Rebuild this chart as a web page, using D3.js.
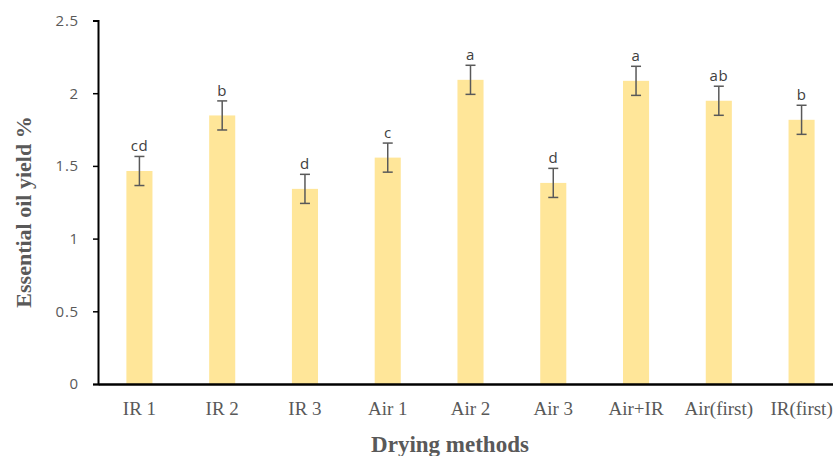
<!DOCTYPE html>
<html><head><meta charset="utf-8">
<script src="https://cdn.jsdelivr.net/npm/d3@7"></script>
<style>body{margin:0;background:#fff}svg{display:block}</style>
</head><body>
<script>
const categories = ["IR 1","IR 2","IR 3","Air 1","Air 2","Air 3","Air+IR","Air(first)","IR(first)"];
const values = [1.465,1.847,1.342,1.557,2.092,1.383,2.085,1.948,1.817];
const errors = [0.1,0.1,0.1,0.1,0.1,0.1,0.1,0.1,0.1];
const letters = ["cd","b","d","c","a","d","a","ab","b"];
const yTicks = [0,0.5,1,1.5,2,2.5];

const W=833,H=456;
const svg=d3.select("body").append("svg").attr("width",W).attr("height",H);
const x=d3.scaleBand().domain(categories).range([98,843]).paddingInner(0.685).paddingOuter(0.343);
const y=d3.scaleLinear().domain([0,2.5]).range([384,20.5]);

// bars
svg.selectAll("rect.bar").data(categories).join("rect").attr("class","bar")
  .attr("x",d=>x(d)).attr("width",x.bandwidth())
  .attr("y",(d,i)=>y(values[i])).attr("height",(d,i)=>y(0)-y(values[i]))
  .attr("fill","#FFE699");

// error bars
const eg=svg.append("g").attr("stroke","#595959").attr("stroke-width",1.5);
categories.forEach((c,i)=>{
  const cx=x(c)+x.bandwidth()/2;
  const t=y(values[i]+errors[i]), b=y(values[i]-errors[i]);
  eg.append("line").attr("x1",cx).attr("x2",cx).attr("y1",t).attr("y2",b);
  eg.append("line").attr("x1",cx-5).attr("x2",cx+5).attr("y1",t).attr("y2",t);
  eg.append("line").attr("x1",cx-5).attr("x2",cx+5).attr("y1",b).attr("y2",b);
  svg.append("text").attr("x",cx).attr("y",t-5).attr("text-anchor","middle")
    .attr("font-family","Open Sans, sans-serif").attr("font-size",15).attr("letter-spacing",0.5)
    .attr("fill","#404040")
    .text(letters[i]);
});

// y axis
const ya=svg.append("g").attr("transform","translate(98,0)")
  .call(d3.axisLeft(y).tickValues(yTicks).tickFormat(d3.format("")).tickSize(5).tickPadding(14));
ya.select(".domain").attr("stroke","#000").attr("stroke-width",2);
ya.selectAll(".tick line").attr("stroke","#000").attr("stroke-width",1.5);
ya.selectAll(".tick text").attr("font-family","Open Sans, sans-serif").attr("font-size",15)
  .attr("letter-spacing",0.8).attr("fill","#595959");

// x axis
const xa=svg.append("g").attr("transform","translate(0,384)")
  .call(d3.axisBottom(x).tickSize(0).tickPadding(18));
xa.select(".domain").attr("stroke","#000").attr("stroke-width",2.5);
xa.selectAll(".tick text").attr("font-family","Liberation Serif, Times New Roman, serif").attr("font-size",19).attr("fill","#595959");

// titles
svg.append("text").attr("x",450).attr("y",452).attr("text-anchor","middle")
  .attr("font-family","Liberation Serif, Times New Roman, serif").attr("font-weight","bold")
  .attr("font-size",23).attr("fill","#595959").text("Drying methods");
svg.append("text").attr("transform","translate(31,212) rotate(-90)").attr("text-anchor","middle")
  .attr("font-family","Liberation Serif, Times New Roman, serif").attr("font-weight","bold")
  .attr("font-size",22).attr("fill","#595959").text("Essential oil yield %");
</script>
</body></html>
